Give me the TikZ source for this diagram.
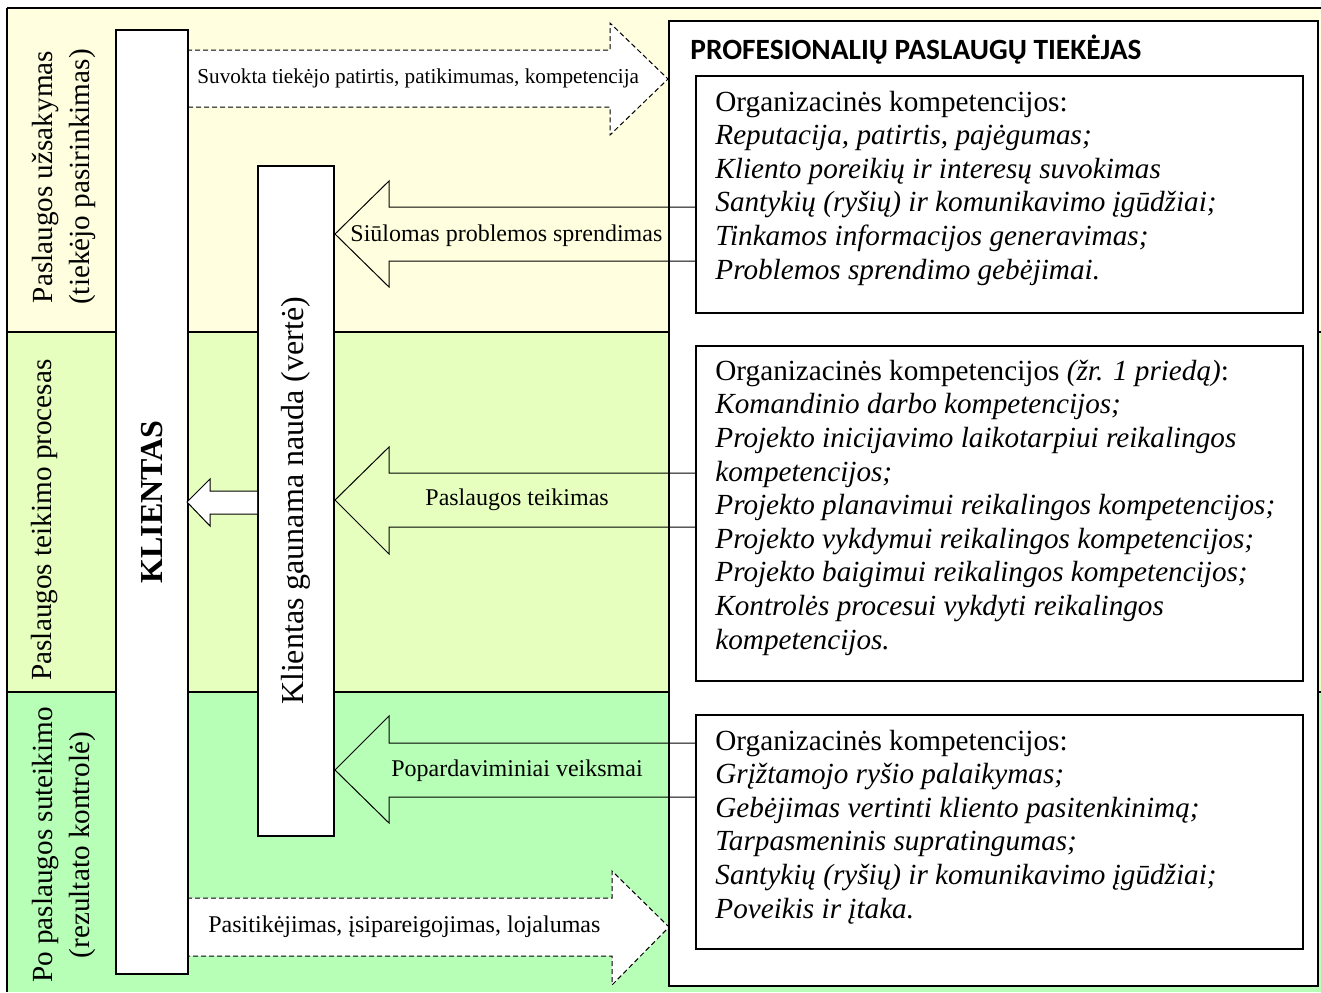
\documentclass[tikz,border=0pt]{standalone}
\usepackage{fontspec}
\setmainfont{Liberation Serif}
\newfontfamily\titlefont{Carlito}
\definecolor{bandA}{RGB}{255,255,224}
\definecolor{bandB}{RGB}{230,255,190}
\definecolor{bandC}{RGB}{183,255,183}
\begin{document}
\begin{tikzpicture}[x=0.5pt,y=-0.5pt,
  boxstyle/.style={draw, line width=1pt, fill=white, inner sep=0pt, anchor=north west},
  vlabel/.style={rotate=90, align=center, inner sep=0pt, font=\fontsize{14.6}{18.5}\selectfont},
  listtext/.style={anchor=base west, align=left, inner sep=0pt, font=\fontsize{14.6}{16.8}\selectfont},
  arrowlabel/.style={anchor=west, inner sep=0pt, font=\fontsize{12}{14}\selectfont},
  smalllabel/.style={anchor=west, inner sep=0pt, font=\fontsize{10.6}{12.5}\selectfont},
  flow/.style={draw, line width=0.5pt},
  dasharrow/.style={draw, dash pattern=on 2.5pt off 1.5pt, line width=0.5pt, fill=white},
]
\useasboundingbox (0,0) rectangle (1321,992);
% bands
\fill[bandA] (7,8) rectangle (1321,332);
\fill[bandB] (7,332) rectangle (1321,692);
\fill[bandC] (7,692) rectangle (1321,992);
\draw[line width=0.8pt] (7,8) -- (1321,8);
\draw[line width=0.8pt] (7,8) -- (7,992);
\draw[line width=0.8pt] (7,332) -- (1321,332);
\draw[line width=1.3pt] (7,692) -- (1321,692);

% phase labels
\node[vlabel] (lab1) at (64,177) {Paslaugos užsakymas\\(tiekėjo pasirinkimas)};
\node[vlabel] (lab2) at (45,520) {Paslaugos teikimo procesas};
\node[vlabel] (lab3) at (64,845) {Po paslaugos suteikimo\\(rezultato kontrolė)};

% dashed arrows
\draw[dasharrow] (187,50) -- (610,50) -- (610,23) -- (668,79) -- (610,135) -- (610,107) -- (187,107) -- cycle;
\node[smalllabel] (d1) at (197,78) {Suvokta tiekėjo patirtis, patikimumas, kompetencija};
\draw[dasharrow] (187,898) -- (612,898) -- (612,871) -- (669,927) -- (612,985) -- (612,956) -- (187,956) -- cycle;
\node[arrowlabel] (d2) at (208,927) {Pasitikėjimas, įsipareigojimas, lojalumas};

% client boxes
\node[boxstyle, minimum width=36pt, minimum height=472pt] (klientas) at (115,29) {};
\node[rotate=90, inner sep=0pt, font=\bfseries\fontsize{16}{19}\selectfont] (klientasT) at (klientas.center) {KLIENTAS};
\node[boxstyle, minimum width=38pt, minimum height=335pt] (verte) at (257,165) {};
\node[rotate=90, inner sep=0pt, font=\fontsize{16}{19}\selectfont] (verteT) at (verte.center) {Klientas gaunama nauda (vertė)};

% small arrow from value to client
\draw[flow, fill=white] (257,491) -- (210,491) -- (210,479) -- (187,502) -- (210,526) -- (210,514) -- (257,514);

% supplier box
\node[boxstyle, minimum width=324.5pt, minimum height=482.5pt] (tiekejas) at (668,20) {};
\node[anchor=west, inner sep=0pt, font=\titlefont\bfseries\fontsize{14.7}{17}\selectfont] (title) at (690,50) {PROFESIONALIŲ PASLAUGŲ TIEKĖJAS};

\node[boxstyle, minimum width=303.5pt, minimum height=118.5pt] (b1) at (695,75) {};
\node[boxstyle, minimum width=303.5pt, minimum height=167.5pt] (b2) at (695,345) {};
\node[boxstyle, minimum width=303.5pt, minimum height=117pt] (b3) at (695,714) {};

% base anchor = baseline of the last line
\node[listtext] (t1) at (715,279) {Organizacinės kompetencijos:\\
\textit{Reputacija, patirtis, pajėgumas;}\\
\textit{Kliento poreikių ir interesų suvokimas}\\
\textit{Santykių (ryšių) ir komunikavimo įgūdžiai;}\\
\textit{Tinkamos informacijos generavimas;}\\
\textit{Problemos sprendimo gebėjimai.}};

\node[listtext] (t2) at (715,649) {Organizacinės kompetencijos \textit{(žr. 1 priedą)}:\\
\textit{Komandinio darbo kompetencijos;}\\
\textit{Projekto inicijavimo laikotarpiui reikalingos}\\
\textit{kompetencijos;}\\
\textit{Projekto planavimui reikalingos kompetencijos;}\\
\textit{Projekto vykdymui reikalingos kompetencijos;}\\
\textit{Projekto baigimui reikalingos kompetencijos;}\\
\textit{Kontrolės procesui vykdyti reikalingos}\\
\textit{kompetencijos.}};

\node[listtext] (t3) at (715,918) {Organizacinės kompetencijos:\\
\textit{Grįžtamojo ryšio palaikymas;}\\
\textit{Gebėjimas vertinti kliento pasitenkinimą;}\\
\textit{Tarpasmeninis supratingumas;}\\
\textit{Santykių (ryšių) ir komunikavimo įgūdžiai;}\\
\textit{Poveikis ir įtaka.}};

% arrows from supplier competences to client value
\draw[flow] (b1.west |- 0,207) -- (389,207) -- (389,181) -- (335,234) -- (389,287) -- (389,261) -- (b1.west |- 0,261);
\node[arrowlabel] (a1) at (350,236) {Siūlomas problemos sprendimas};
\draw[flow] (b2.west |- 0,473) -- (389,473) -- (389,447) -- (335,500) -- (389,554) -- (389,527) -- (b2.west |- 0,527);
\node[arrowlabel] (a2) at (425,500) {Paslaugos teikimas};
\draw[flow] (b3.west |- 0,743) -- (389,743) -- (389,716) -- (335,770) -- (389,823) -- (389,797) -- (b3.west |- 0,797);
\node[arrowlabel] (a3) at (391,771) {Popardaviminiai veiksmai};
\end{tikzpicture}
\end{document}
